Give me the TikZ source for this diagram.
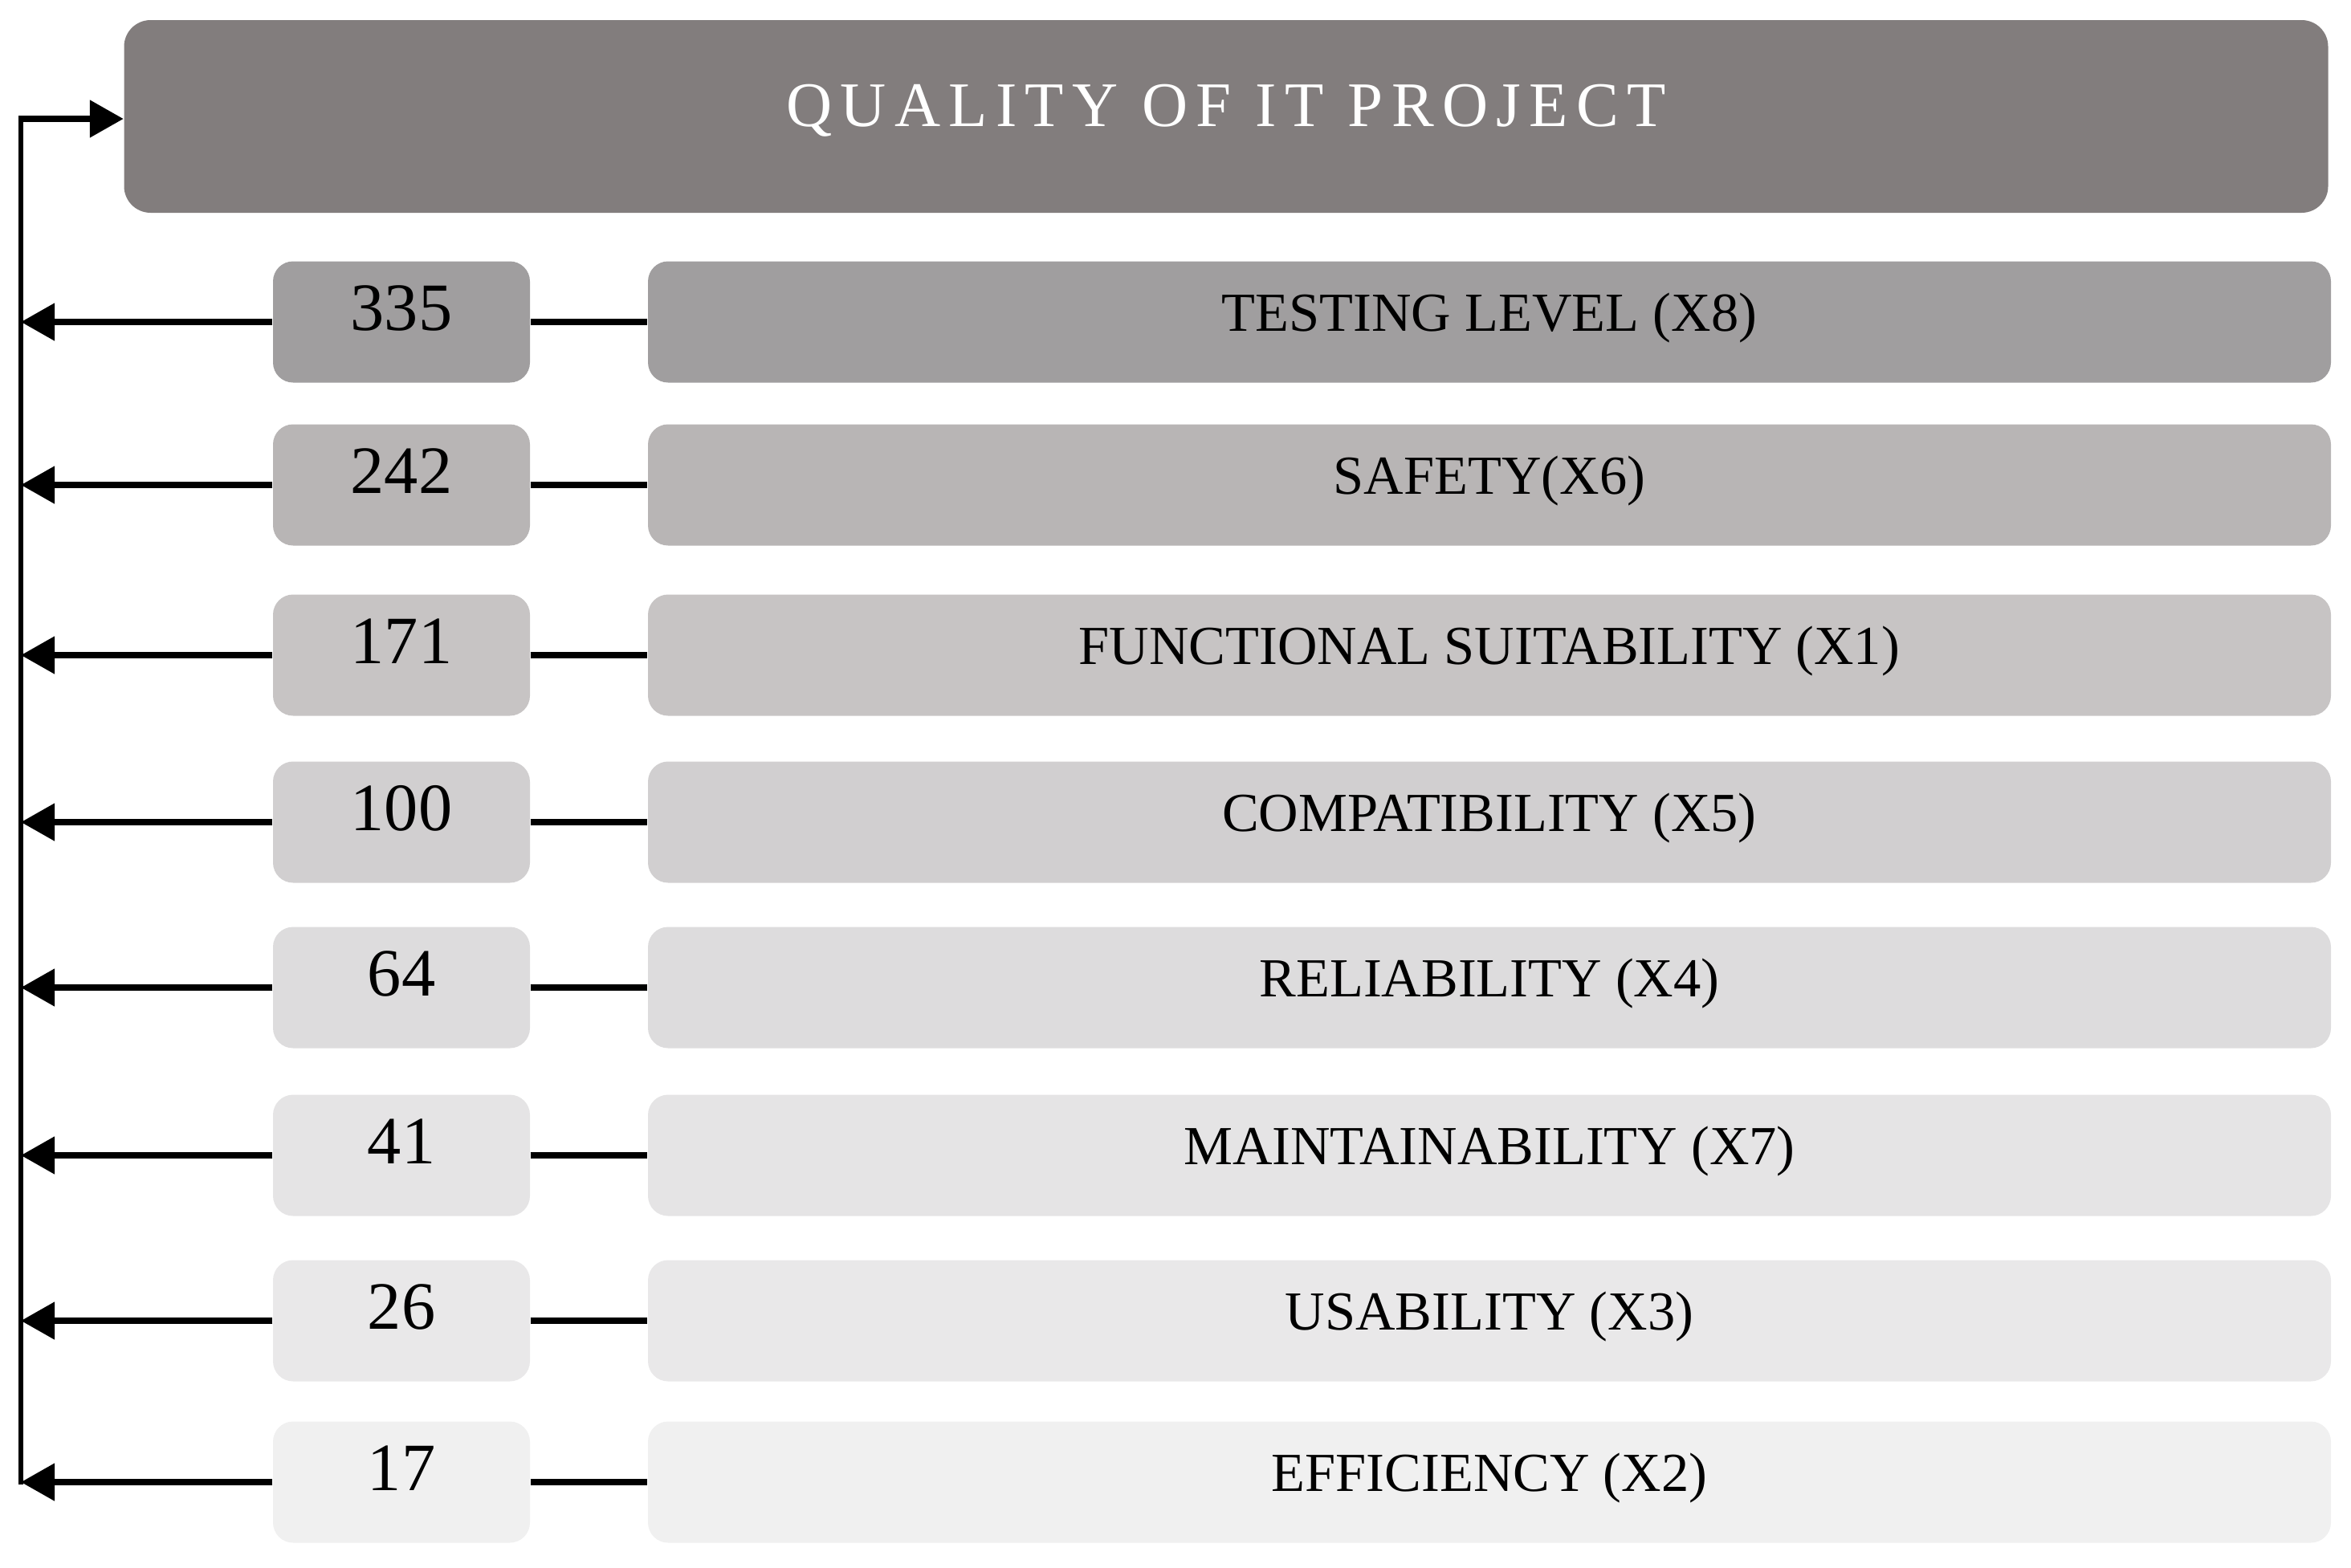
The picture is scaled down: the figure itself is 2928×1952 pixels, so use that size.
\documentclass[tikz,border=0pt]{standalone}
\usepackage{fontspec}
\setmainfont{Liberation Serif}
\newfontfamily\titlefont[LetterSpace=13]{Liberation Serif}
\usetikzlibrary{arrows.meta}
\definecolor{headc}{RGB}{130,125,125}
\definecolor{ca}{RGB}{160,158,159}
\definecolor{cb}{RGB}{184,181,181}
\definecolor{cc}{RGB}{199,196,196}
\definecolor{cd}{RGB}{209,207,208}
\definecolor{ce}{RGB}{221,220,221}
\definecolor{cf}{RGB}{229,228,229}
\definecolor{cg}{RGB}{233,232,233}
\definecolor{ch}{RGB}{240,240,240}
\begin{document}
\begin{tikzpicture}[x=0.1mm,y=-0.1mm,
  headbox/.style={rounded corners=3.3mm, minimum width=274.5mm, minimum height=24mm, inner sep=0pt,
    fill=headc, text=white, font=\titlefont\fontsize{22.5}{24}\selectfont, text height=4.4mm, text depth=2mm},
  numbox/.style={rounded corners=2.5mm, minimum width=32mm, minimum height=15.1mm, inner sep=0pt,
    font=\fontsize{24}{26}\selectfont, text height=5mm, text depth=3mm},
  labbox/.style={rounded corners=2.5mm, minimum width=209.6mm, minimum height=15.1mm, inner sep=0pt,
    font=\fontsize{19.5}{22}\selectfont, text height=4.2mm, text depth=2mm},
  arr/.style={line width=0.8mm, -{Triangle[length=4.2mm, width=4.5mm]}},
  conn/.style={line width=0.8mm},
  trunk/.style={line width=0.6mm}
]
\useasboundingbox (0,0) rectangle (2928,1952);
\node[headbox] (head) at (1527,145) {QUALITY OF IT PROJECT};
\coordinate (tl) at (26,148);
\coordinate (bl) at (26,1849);
\draw[trunk] (bl) -- (tl);
\draw[arr] ([xshift=-0.3mm]tl) -- (tl -| head.west);
\foreach \i/\y/\num/\lab/\col in {
  1/401/335/TESTING LEVEL (X8)/ca,
  2/604/242/SAFETY(X6)/cb,
  3/816/171/FUNCTIONAL SUITABILITY (X1)/cc,
  4/1024/100/COMPATIBILITY (X5)/cd,
  5/1230/64/RELIABILITY (X4)/ce,
  6/1439/41/MAINTAINABILITY (X7)/cf,
  7/1645/26/USABILITY (X3)/cg,
  8/1846/17/EFFICIENCY (X2)/ch}{
  \node[numbox, fill=\col] (n\i) at (500,\y) {\num};
  \node[labbox, fill=\col] (t\i) at (1855,\y) {\lab};
  \draw[conn] (n\i.east) -- (t\i.west);
  \draw[arr] (n\i.west) -- (n\i.west -| tl);
}
\end{tikzpicture}
\end{document}
